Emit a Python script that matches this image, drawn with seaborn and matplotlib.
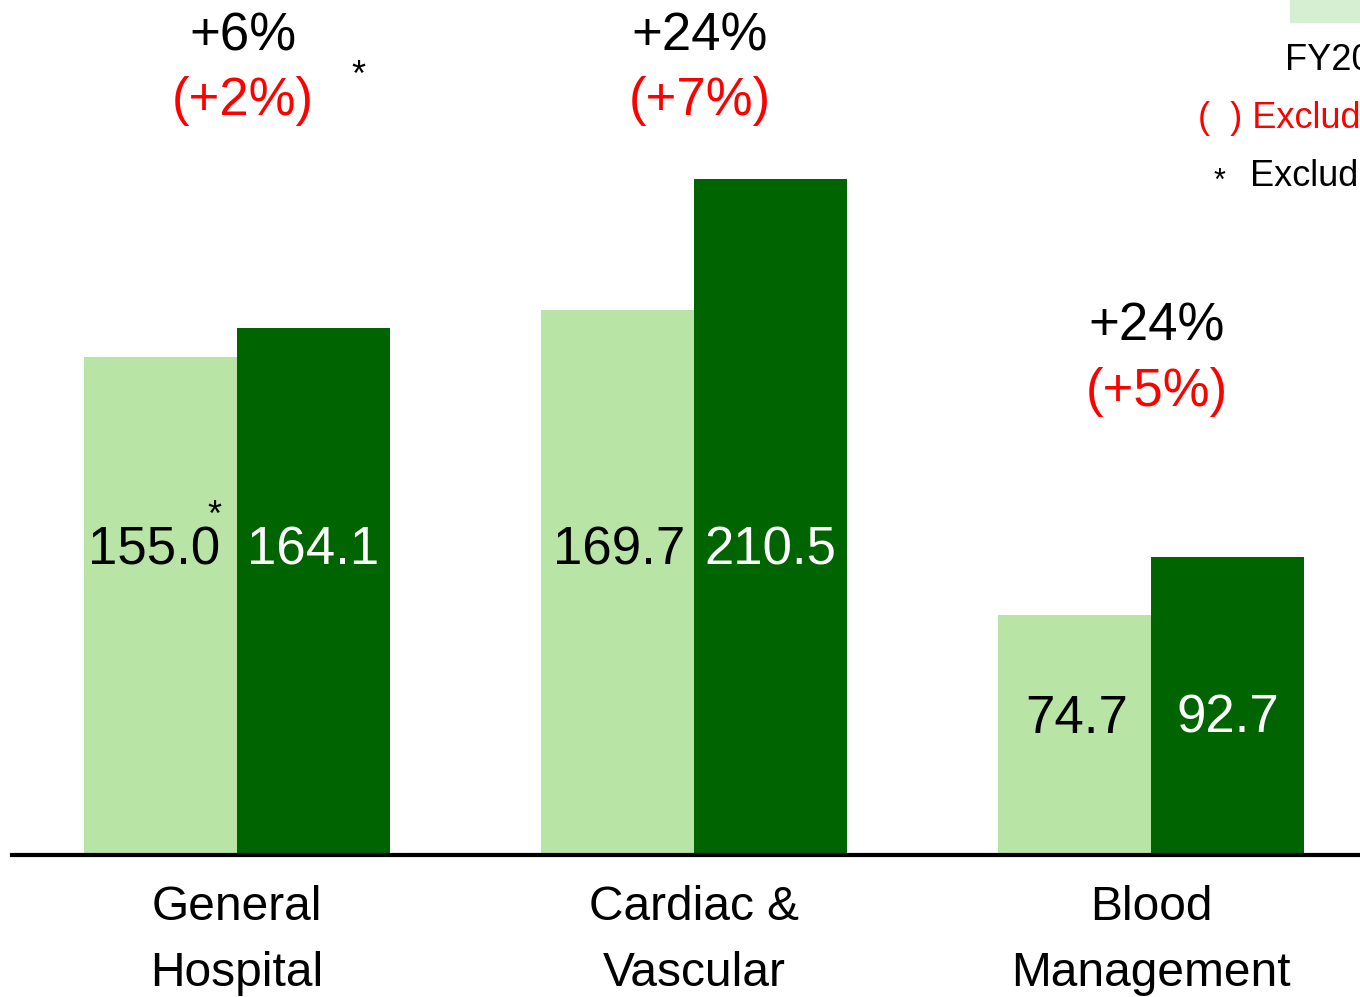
import matplotlib
matplotlib.use("Agg")
import matplotlib.pyplot as plt
import seaborn as sns
import pandas as pd
from matplotlib.patches import Rectangle

# data
categories = ["General\nHospital", "Cardiac &\nVascular", "Blood\nManagement"]
fy_prev = [155.0, 169.7, 74.7]
fy_curr = [164.1, 210.5, 92.7]
growth = ["+6%", "+24%", "+24%"]
growth_ex = ["(+2%)", "(+7%)", "(+5%)"]
series = ["FY2012", "FY2013"]

light_green = "#b8e4a5"
dark_green = "#006400"

df = pd.DataFrame({
    "Category": categories * 2,
    "Series": [series[0]] * 3 + [series[1]] * 3,
    "Value": fy_prev + fy_curr,
})

sns.set_theme(style="white")
plt.rcParams["font.family"] = ["Liberation Sans", "DejaVu Sans"]
plt.rcParams["text.color"] = "black"

fig = plt.figure(figsize=(13.6, 9.97), dpi=100)
ax = fig.add_axes([12 / 1360, 142 / 997, 1348 / 1360, 855 / 997])

sns.barplot(data=df, x="Category", y="Value", hue="Series",
            palette=[light_green, dark_green], width=0.67, gap=0,
            saturation=1, linewidth=0, legend=False, ax=ax)

ax.set_xlim(-225 / 457, 1123 / 457)
ax.set_ylim(0, 855 / 3.21)
ax.set_xlabel("")
ax.set_ylabel("")
ax.set_xticks([])
ax.set_yticks([])
for s in ["top", "left", "right"]:
    ax.spines[s].set_visible(False)
ax.spines["bottom"].set_linewidth(3)
ax.spines["bottom"].set_color("black")

# value labels inside bars
half = 0.67 / 4
for i in range(len(categories)):
    ly = 95 if i < 2 else 42.5
    shift = -0.015 if i == 0 else 0.004
    ax.text(i - half + shift, ly, f"{fy_prev[i]:.1f}", ha="center", va="center",
            fontsize=38, color="black")
    ax.text(i + half, ly, f"{fy_curr[i]:.1f}", ha="center", va="center",
            fontsize=38, color="white")

# growth labels
for i in range(len(categories)):
    if i < 2:
        y1, y2 = 255, 235
    else:
        y1, y2 = 164.5, 144.2
    ax.text(i + 0.013, y1, growth[i], ha="center", va="center", fontsize=38, color="black")
    ax.text(i + 0.013, y2, growth_ex[i], ha="center", va="center", fontsize=38, color="red")

# asterisks
ax.text(-0.05, 105.5, "*", ha="center", va="center", fontsize=26, color="black")
ax.text(0.265, 242.5, "*", ha="center", va="center", fontsize=26, color="black")

# category labels below axis
for i, c in enumerate(categories):
    ax.text(i, -9.5, c, ha="center", va="top", fontsize=34.5, linespacing=1.6,
            color="black", transform=ax.transData, clip_on=False)

# legend (cut off at the right edge)
fig.patches.append(Rectangle((1290 / 1360, 975 / 997), 0.2, 0.05,
                             transform=fig.transFigure, color="#d6efd3", zorder=0))
fig.text(1285 / 1360, 1 - 60 / 997, "FY2013", ha="left", va="center", fontsize=26,
         color="black")
fig.text(1198 / 1360, 1 - 118 / 997, "(  ) Excluding", ha="left", va="center",
         fontsize=26, color="red")
fig.text(1219 / 1360, 1 - 182 / 997, "*", ha="center", va="center", fontsize=22,
         color="black")
fig.text(1250 / 1360, 1 - 176 / 997, "Excluding", ha="left", va="center", fontsize=26,
         color="black")

fig.savefig("out.png", dpi=100)
